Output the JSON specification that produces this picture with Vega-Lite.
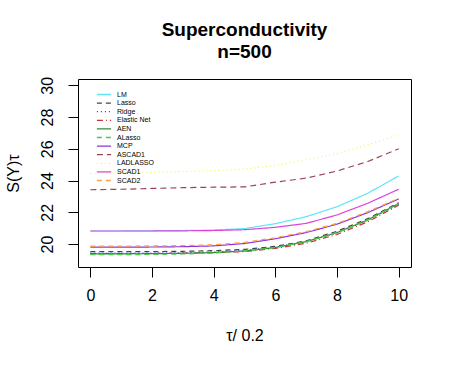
{
  "$schema": "https://vega.github.io/schema/vega-lite/v6.json",
  "autosize": "none",
  "width": 333,
  "height": 188,
  "padding": {"left": 78, "top": 79, "right": 39, "bottom": 98},
  "background": "white",
  "config": {
    "font": "Liberation Sans",
    "view": {"stroke": "#000000", "strokeWidth": 1}
  },
  "title": {
    "text": ["Superconductivity", "\u00a0\u00a0\u00a0n=500"],
    "fontSize": 19,
    "fontWeight": "bold",
    "font": "Liberation Sans",
    "color": "#000000",
    "anchor": "middle",
    "lineHeight": 22,
    "offset": 14
  },
  "data": {
    "values": [
      {"method": "LM", "t": 0, "v": 20.82}, {"method": "LM", "t": 1, "v": 20.82}, {"method": "LM", "t": 2, "v": 20.83}, {"method": "LM", "t": 3, "v": 20.85}, {"method": "LM", "t": 4, "v": 20.88}, {"method": "LM", "t": 5, "v": 20.97}, {"method": "LM", "t": 6, "v": 21.28}, {"method": "LM", "t": 7, "v": 21.72}, {"method": "LM", "t": 8, "v": 22.35}, {"method": "LM", "t": 9, "v": 23.2}, {"method": "LM", "t": 10, "v": 24.29},
      {"method": "Lasso", "t": 0, "v": 19.52}, {"method": "Lasso", "t": 1, "v": 19.52}, {"method": "Lasso", "t": 2, "v": 19.52}, {"method": "Lasso", "t": 3, "v": 19.54}, {"method": "Lasso", "t": 4, "v": 19.58}, {"method": "Lasso", "t": 5, "v": 19.66}, {"method": "Lasso", "t": 6, "v": 19.85}, {"method": "Lasso", "t": 7, "v": 20.2}, {"method": "Lasso", "t": 8, "v": 20.8}, {"method": "Lasso", "t": 9, "v": 21.6}, {"method": "Lasso", "t": 10, "v": 22.6},
      {"method": "Ridge", "t": 0, "v": 19.42}, {"method": "Ridge", "t": 1, "v": 19.42}, {"method": "Ridge", "t": 2, "v": 19.43}, {"method": "Ridge", "t": 3, "v": 19.45}, {"method": "Ridge", "t": 4, "v": 19.5}, {"method": "Ridge", "t": 5, "v": 19.6}, {"method": "Ridge", "t": 6, "v": 19.8}, {"method": "Ridge", "t": 7, "v": 20.15}, {"method": "Ridge", "t": 8, "v": 20.7}, {"method": "Ridge", "t": 9, "v": 21.5}, {"method": "Ridge", "t": 10, "v": 22.5},
      {"method": "Elastic Net", "t": 0, "v": 19.4}, {"method": "Elastic Net", "t": 1, "v": 19.4}, {"method": "Elastic Net", "t": 2, "v": 19.4}, {"method": "Elastic Net", "t": 3, "v": 19.42}, {"method": "Elastic Net", "t": 4, "v": 19.45}, {"method": "Elastic Net", "t": 5, "v": 19.52}, {"method": "Elastic Net", "t": 6, "v": 19.72}, {"method": "Elastic Net", "t": 7, "v": 20.05}, {"method": "Elastic Net", "t": 8, "v": 20.6}, {"method": "Elastic Net", "t": 9, "v": 21.4}, {"method": "Elastic Net", "t": 10, "v": 22.45},
      {"method": "AEN", "t": 0, "v": 19.38}, {"method": "AEN", "t": 1, "v": 19.38}, {"method": "AEN", "t": 2, "v": 19.39}, {"method": "AEN", "t": 3, "v": 19.41}, {"method": "AEN", "t": 4, "v": 19.46}, {"method": "AEN", "t": 5, "v": 19.56}, {"method": "AEN", "t": 6, "v": 19.78}, {"method": "AEN", "t": 7, "v": 20.15}, {"method": "AEN", "t": 8, "v": 20.72}, {"method": "AEN", "t": 9, "v": 21.52}, {"method": "AEN", "t": 10, "v": 22.55},
      {"method": "ALasso", "t": 0, "v": 19.33}, {"method": "ALasso", "t": 1, "v": 19.33}, {"method": "ALasso", "t": 2, "v": 19.34}, {"method": "ALasso", "t": 3, "v": 19.37}, {"method": "ALasso", "t": 4, "v": 19.43}, {"method": "ALasso", "t": 5, "v": 19.55}, {"method": "ALasso", "t": 6, "v": 19.78}, {"method": "ALasso", "t": 7, "v": 20.15}, {"method": "ALasso", "t": 8, "v": 20.72}, {"method": "ALasso", "t": 9, "v": 21.52}, {"method": "ALasso", "t": 10, "v": 22.55},
      {"method": "MCP", "t": 0, "v": 19.8}, {"method": "MCP", "t": 1, "v": 19.8}, {"method": "MCP", "t": 2, "v": 19.81}, {"method": "MCP", "t": 3, "v": 19.83}, {"method": "MCP", "t": 4, "v": 19.88}, {"method": "MCP", "t": 5, "v": 20.03}, {"method": "MCP", "t": 6, "v": 20.33}, {"method": "MCP", "t": 7, "v": 20.72}, {"method": "MCP", "t": 8, "v": 21.25}, {"method": "MCP", "t": 9, "v": 21.98}, {"method": "MCP", "t": 10, "v": 22.84},
      {"method": "ASCAD1", "t": 0, "v": 23.42}, {"method": "ASCAD1", "t": 1, "v": 23.45}, {"method": "ASCAD1", "t": 2, "v": 23.5}, {"method": "ASCAD1", "t": 3, "v": 23.55}, {"method": "ASCAD1", "t": 4, "v": 23.58}, {"method": "ASCAD1", "t": 5, "v": 23.6}, {"method": "ASCAD1", "t": 6, "v": 23.9}, {"method": "ASCAD1", "t": 7, "v": 24.15}, {"method": "ASCAD1", "t": 8, "v": 24.6}, {"method": "ASCAD1", "t": 9, "v": 25.2}, {"method": "ASCAD1", "t": 10, "v": 26.0},
      {"method": "LADLASSO", "t": 0, "v": 24.45}, {"method": "LADLASSO", "t": 1, "v": 24.48}, {"method": "LADLASSO", "t": 2, "v": 24.52}, {"method": "LADLASSO", "t": 3, "v": 24.57}, {"method": "LADLASSO", "t": 4, "v": 24.62}, {"method": "LADLASSO", "t": 5, "v": 24.72}, {"method": "LADLASSO", "t": 6, "v": 24.95}, {"method": "LADLASSO", "t": 7, "v": 25.3}, {"method": "LADLASSO", "t": 8, "v": 25.7}, {"method": "LADLASSO", "t": 9, "v": 26.25}, {"method": "LADLASSO", "t": 10, "v": 26.88},
      {"method": "SCAD1", "t": 0, "v": 20.82}, {"method": "SCAD1", "t": 1, "v": 20.82}, {"method": "SCAD1", "t": 2, "v": 20.82}, {"method": "SCAD1", "t": 3, "v": 20.83}, {"method": "SCAD1", "t": 4, "v": 20.85}, {"method": "SCAD1", "t": 5, "v": 20.9}, {"method": "SCAD1", "t": 6, "v": 21.05}, {"method": "SCAD1", "t": 7, "v": 21.3}, {"method": "SCAD1", "t": 8, "v": 21.83}, {"method": "SCAD1", "t": 9, "v": 22.57}, {"method": "SCAD1", "t": 10, "v": 23.45},
      {"method": "SCAD2", "t": 0, "v": 19.87}, {"method": "SCAD2", "t": 1, "v": 19.87}, {"method": "SCAD2", "t": 2, "v": 19.88}, {"method": "SCAD2", "t": 3, "v": 19.9}, {"method": "SCAD2", "t": 4, "v": 19.95}, {"method": "SCAD2", "t": 5, "v": 20.1}, {"method": "SCAD2", "t": 6, "v": 20.4}, {"method": "SCAD2", "t": 7, "v": 20.78}, {"method": "SCAD2", "t": 8, "v": 21.3}, {"method": "SCAD2", "t": 9, "v": 22.04}, {"method": "SCAD2", "t": 10, "v": 22.88}
    ]
  },
  "mark": {"type": "line", "strokeWidth": 1.2, "clip": true},
  "encoding": {
    "x": {
      "field": "t", "type": "quantitative",
      "scale": {"domain": [-0.4, 10.4], "nice": false, "zero": false},
      "axis": {
        "title": "\u03c4/ 0.2", "values": [0, 2, 4, 6, 8, 10], "grid": false, "domain": false,
        "tickColor": "#000000", "tickSize": 10, "labelFontSize": 16, "labelColor": "#000000",
        "labelPadding": 10, "titleFontSize": 16, "titleFontWeight": "normal", "titleColor": "#000000",
        "titlePadding": 24, "labelFont": "Liberation Sans", "titleFont": "Liberation Sans"
      }
    },
    "y": {
      "field": "v", "type": "quantitative",
      "scale": {"domain": [18.55, 30.4], "nice": false, "zero": false},
      "axis": {
        "title": "S(Y)\u03c4", "values": [20, 22, 24, 26, 28, 30], "grid": false, "domain": false,
        "tickColor": "#000000", "tickSize": 10, "labelFontSize": 16, "labelColor": "#000000",
        "labelAngle": 270, "labelPadding": 13, "titleFontSize": 16, "titleFontWeight": "normal",
        "titleColor": "#000000", "titlePadding": 18, "labelFont": "Liberation Sans", "titleFont": "Liberation Sans"
      }
    },
    "color": {
      "field": "method", "type": "nominal",
      "scale": {
        "domain": ["LM", "Lasso", "Ridge", "Elastic Net", "AEN", "ALasso", "MCP", "ASCAD1", "LADLASSO", "SCAD1", "SCAD2"],
        "range": ["#5ee6f5", "#444444", "#3535ee", "#cc3333", "#2f8a3a", "#44cc44", "#8a35dd", "#994455", "#f2f066", "#dd44dd", "#ffa040"]
      },
      "legend": {
        "title": null, "orient": "none", "legendX": 21, "legendY": 10.5,
        "symbolType": "M-1.7,0H1.7", "symbolSize": 70, "symbolStrokeWidth": 1.3,
        "labelFontSize": 7, "labelFont": "Liberation Sans", "labelColor": "#000000",
        "rowPadding": 0.6, "labelOffset": 8
      }
    },
    "strokeDash": {
      "field": "method", "type": "nominal",
      "scale": {
        "domain": ["LM", "Lasso", "Ridge", "Elastic Net", "AEN", "ALasso", "MCP", "ASCAD1", "LADLASSO", "SCAD1", "SCAD2"],
        "range": [[1, 0], [5, 4], [1, 3], [6, 3, 1, 3], [1, 0], [5, 4], [1, 0], [6, 4], [1, 3], [1, 0], [5, 4]]
      },
      "legend": {
        "title": null, "orient": "none", "legendX": 21, "legendY": 10.5,
        "symbolType": "M-1.7,0H1.7", "symbolSize": 70, "symbolStrokeWidth": 1.3,
        "labelFontSize": 7, "labelFont": "Liberation Sans", "labelColor": "#000000",
        "rowPadding": 0.6, "labelOffset": 8
      }
    }
  }
}
